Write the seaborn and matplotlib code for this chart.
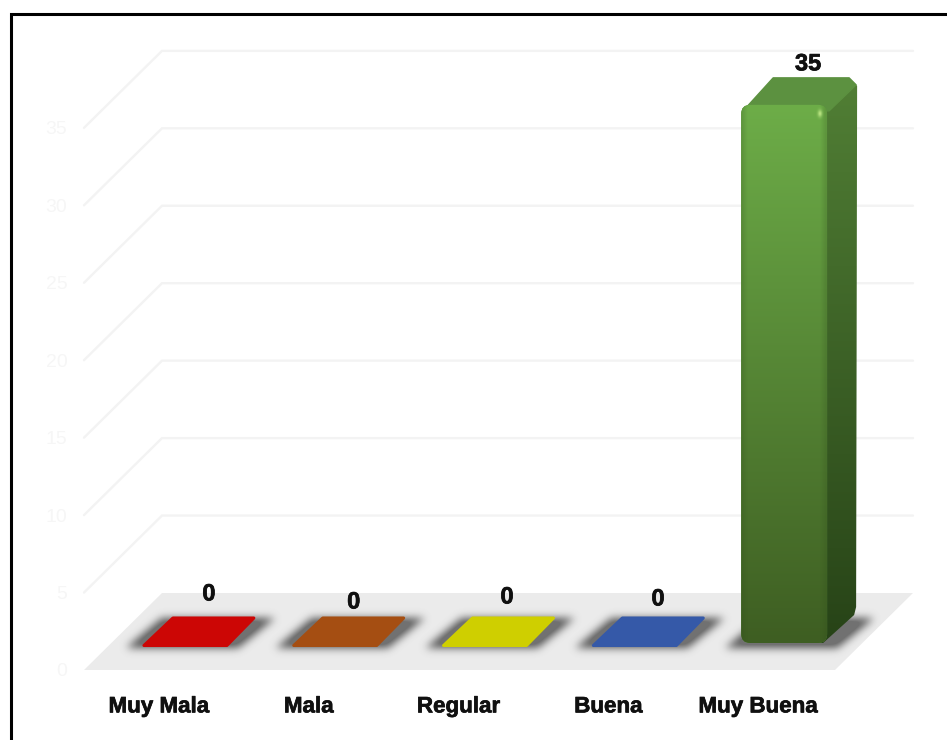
import numpy as np
import pandas as pd
import matplotlib
matplotlib.use("Agg")
import matplotlib.pyplot as plt
import matplotlib.patheffects as pe
import seaborn as sns
from matplotlib.patches import Polygon, FancyBboxPatch
from matplotlib.path import Path
from matplotlib.transforms import IdentityTransform
from matplotlib.colors import to_rgb

categories = ["Muy Mala", "Mala", "Regular", "Buena", "Muy Buena"]
values = [0, 0, 0, 0, 35]
bar_colors = ["#CC0605", "#A54E12", "#CFCF00", "#3559A8", "#5E9440"]
y_ticks = [0, 5, 10, 15, 20, 25, 30, 35]

W, H = 947, 740
# layout (pixels)
label_dx = [50, 45, 48.5, 49.7, 50]
label_dy = [76, 68, 73, 71, 64]
BACK = (78, 77)
BAR_D = (27, 23)
DEPTH = (28, 27)
XLIM = (-0.5, 4.513)
YLIM = (0, 40)

sns.set_theme(style="white")
plt.rcParams["font.family"] = ["Liberation Sans", "DejaVu Sans"]
fig = plt.figure(figsize=(W / 100, H / 100), dpi=100, facecolor="white")
y_scale = 15.49
ax = fig.add_axes([84 / W, (H - 670) / H, 751 / W, 40 * y_scale / H])
ax.patch.set_alpha(0)
df = pd.DataFrame({"cat": categories, "val": values})
sns.barplot(data=df, x="cat", y="val", hue="cat", palette=bar_colors, width=0.587,
            legend=False, ax=ax, saturation=1, zorder=1)
ax.set_xlim(*XLIM)
ax.set_ylim(*YLIM)
sns.despine(ax=ax, left=True, bottom=True)
ax.set_xlabel("")
ax.set_ylabel("")
ax.set_yticks(y_ticks)
ax.set_yticklabels([str(t) for t in y_ticks], color="#F6F6F6", fontsize=14)
ax.tick_params(axis="y", length=0, pad=12)
ax.tick_params(axis="x", length=0, pad=19)
stroke = [pe.withStroke(linewidth=0.5, foreground="#101010")]
for t in ax.get_xticklabels():
    t.set_fontweight("bold")
    t.set_fontsize(16.1)
    t.set_color("#101010")
    t.set_path_effects(stroke)

# floor
x0, x1 = ax.get_xlim()
front = ax.transData.transform([(x0, 0), (x1, 0)])
floor = front.tolist() + [[front[1][0] + BACK[0], front[1][1] + BACK[1]],
                          [front[0][0] + BACK[0], front[0][1] + BACK[1]]]
ax.add_patch(Polygon(floor, closed=True, transform=IdentityTransform(), fc="#EBEBEB",
                     ec="none", zorder=0.2, clip_on=False))

# walls grid
for v in y_ticks[1:]:
    p = ax.transData.transform([(x0, v), (x1, v)])
    ax.plot([p[0][0], p[0][0] + BACK[0], p[1][0] + BACK[0]],
            [p[0][1], p[0][1] + BACK[1], p[1][1] + BACK[1]],
            transform=IdentityTransform(), color="#F3F3F3", lw=1.7, zorder=0.1,
            clip_on=False, solid_joinstyle="miter")

# bar geometry from seaborn's bars
rects = sorted([p for p in ax.patches if not isinstance(p, Polygon)], key=lambda r: r.get_x())
geo = []
for r in rects:
    (l, b), (rr, t) = ax.transData.transform([(r.get_x(), 0), (r.get_x() + r.get_width(), r.get_height())])
    geo.append((l + BAR_D[0], b + BAR_D[1], rr + BAR_D[0], t + BAR_D[1]))
    r.set_visible(False)


def gauss(a, sigma):
    rad = int(3 * sigma)
    k = np.exp(-0.5 * (np.arange(-rad, rad + 1) / sigma) ** 2)
    k /= k.sum()
    a = np.apply_along_axis(lambda m: np.convolve(m, k, mode="same"), 0, a)
    return np.apply_along_axis(lambda m: np.convolve(m, k, mode="same"), 1, a)


def keep_limits():
    ax.set_xlim(*XLIM)
    ax.set_ylim(*YLIM)


# blurred contact shadows
xx, yy = np.meshgrid(np.arange(W) + .5, np.arange(H) + .5)
pts = np.c_[xx.ravel(), yy.ravel()]
mask = np.zeros((H, W))
for (l, b, rr, t) in geo:
    pb = H - b
    poly = [(l - 16, pb + 1), (rr + 8, pb + 1), (rr + DEPTH[0] + 17, pb - 29), (l + DEPTH[0] - 8, pb - 29)]
    mask += Path(poly).contains_points(pts).reshape(H, W)
mask = gauss(mask, 4.2)
shadow = np.zeros((H, W, 4))
shadow[..., :3] = 0.36
shadow[..., 3] = np.clip(mask * 1.25, 0, 1) * 0.85
ax.imshow(shadow, extent=(0, W, 0, H), origin="upper", transform=IdentityTransform(),
          aspect="auto", zorder=0.5, interpolation="nearest", clip_on=False)
keep_limits()


def grad(box, clip, c_start, c_end, z=1):
    a = np.linspace(0, 1, 256)[:, None]
    img = np.zeros((256, 1, 3))
    for i in range(3):
        img[..., i] = to_rgb(c_start)[i] * (1 - a) + to_rgb(c_end)[i] * a
    im = ax.imshow(img, extent=box, origin="upper", transform=IdentityTransform(), aspect="auto",
                   zorder=z, interpolation="bilinear")
    im.set_clip_path(clip)
    im.set_clip_box(fig.bbox)
    keep_limits()


for v, col, (l, b, rr, t) in zip(values, bar_colors, geo):
    if v == 0:
        pg = [(l + 2, b + 1.5), (rr - 3, b + 1.5), (rr + DEPTH[0] - 4, b + 29), (l + DEPTH[0] + 3, b + 29)]
        ax.add_patch(Polygon(pg, closed=True, transform=IdentityTransform(), fc=col, ec=col, lw=2.2,
                             joinstyle="round", zorder=1, clip_on=False))
    else:
        bot = b + 4
        dx, dy = DEPTH
        side = Polygon([(rr - 10, bot), (rr - 6, bot), (rr + dx - 3, bot + 28), (rr + dx - 1, bot + 36),
                        (rr + dx, t + dy - 8), (rr + dx - 8, t + dy), (rr - 10, t)], closed=True,
                       transform=IdentityTransform(), fc="none", ec="none", zorder=1.1, clip_on=False)
        ax.add_patch(side)
        grad((rr - 10, rr + dx + 1, bot, t + dy), side, "#517F35", "#274317", z=1.1)
        top_f = Polygon([(l + 2, t - 6), (l + dx + 4, t + dy), (rr + dx - 8, t + dy), (rr + dx - 1, t + dy - 7),
                         (rr, t - 6)], closed=True,
                        transform=IdentityTransform(), fc="#5C9140", ec="#5C9140", lw=1, joinstyle="round",
                        zorder=1.2, clip_on=False)
        ax.add_patch(top_f)
        fr = FancyBboxPatch((l + 7, bot + 7), rr - 2 - l - 14, t - bot - 14,
                            boxstyle="round,pad=7,rounding_size=9",
                            transform=IdentityTransform(), fc="#5C9140", ec="none", zorder=1.3, clip_on=False)
        ax.add_patch(fr)
        grad((l, rr - 2, bot, t), fr, "#6DAD48", "#3E5E22", z=1.3)
        # soft darkening at the edges, highlight at the corner
        edge = np.zeros((1, 32, 4))
        edge[..., :3] = to_rgb("#2E4A1A")
        edge[..., 3] = np.r_[np.linspace(.2, 0, 3), np.zeros(26), np.linspace(0, .2, 3)]
        e = ax.imshow(edge, extent=(l, rr - 2, bot, t), origin="upper", transform=IdentityTransform(),
                      aspect="auto", zorder=1.35, interpolation="bilinear")
        e.set_clip_path(fr)
        e.set_clip_box(fig.bbox)
        keep_limits()
        gx, gy = np.meshgrid(np.linspace(-1, 1, 15), np.linspace(-1, 1, 25))
        hl = np.zeros((25, 15, 4))
        hl[..., :3] = to_rgb("#C4EC8A")
        hl[..., 3] = np.exp(-(gx ** 2 + gy ** 2) * 3) * .9
        ax.imshow(hl, extent=(rr - 13, rr - 5, t - 15, t - 2), origin="upper", transform=IdentityTransform(),
                  aspect="auto", zorder=1.4, interpolation="bilinear", clip_on=False)
        keep_limits()

# value labels
for i, (v, dxp, dyp) in enumerate(zip(values, label_dx, label_dy)):
    ax.annotate(str(v), xy=(i, v), xytext=(dxp, dyp), textcoords="offset pixels", ha="center", va="center",
                fontsize=17, fontweight="bold", color="#101010", zorder=3, annotation_clip=False,
                path_effects=stroke)

# outer frame
fig.add_artist(plt.Line2D([10.5 / W, 10.5 / W, 1], [0, (H - 13.5) / H, (H - 13.5) / H],
                          transform=fig.transFigure, color="black", lw=2.2, solid_joinstyle="miter"))
fig.savefig("out.png", dpi=100)
